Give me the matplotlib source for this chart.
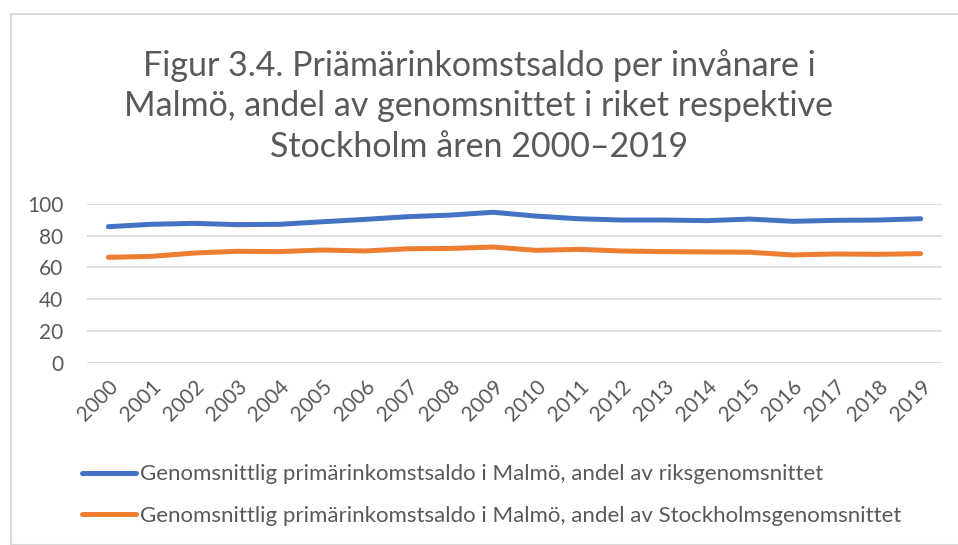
import matplotlib
matplotlib.use("Agg")
import matplotlib.pyplot as plt
from matplotlib.patches import Rectangle

YEARS = [str(y) for y in range(2000, 2020)]
RIKET = [85.7, 87.2, 87.8, 87.0, 87.2, 88.8, 90.3, 92.0, 93.0, 94.8,
         92.4, 90.7, 89.9, 89.9, 89.5, 90.5, 89.1, 89.7, 89.9, 90.7]
STOCKHOLM = [66.4, 67.0, 69.1, 70.2, 70.0, 71.0, 70.4, 71.8, 72.0, 72.9,
             70.8, 71.4, 70.4, 70.0, 69.8, 69.6, 67.9, 68.5, 68.3, 68.7]
LABELS = [
    "Genomsnittlig primärinkomstsaldo i Malmö, andel av riksgenomsnittet",
    "Genomsnittlig primärinkomstsaldo i Malmö, andel av Stockholmsgenomsnittet",
]
TITLE = ("Figur 3.4. Priämärinkomstsaldo per invånare i\n"
         "Malmö, andel av genomsnittet i riket respektive\n"
         "Stockholm åren 2000\u20132019")

TEXT = "#595959"
GRID = "#D9D9D9"
plt.rcParams["font.family"] = ["Lato", "DejaVu Sans"]

W, H = 958, 545
fig = plt.figure(figsize=(W / 100, H / 100), dpi=100)

# chart frame
fig.patches.append(Rectangle((11 / W, 0), 1.0, 1 - 14 / H, transform=fig.transFigure,
                             fill=False, edgecolor=GRID, linewidth=1.5))

ax = fig.add_axes([87 / W, 1 - 362.7 / H, (942 - 87) / W, (362.7 - 204) / H])
x = list(range(len(YEARS)))
l1, = ax.plot(x, RIKET, color="#4472C4", linewidth=3.6, solid_capstyle="round")
l2, = ax.plot(x, STOCKHOLM, color="#ED7D31", linewidth=3.6, solid_capstyle="round")

ax.set_xlim(-0.5, len(YEARS) - 0.5)
ax.set_ylim(0, 100)
ax.set_yticks(range(0, 101, 20))
ax.set_xticks(x)
ax.set_xticklabels(YEARS, rotation=45, ha="right", rotation_mode="anchor")
ax.grid(axis="y", color=GRID, linewidth=1.2)
ax.set_axisbelow(True)
for s in ax.spines.values():
    s.set_visible(False)
ax.tick_params(axis="both", length=0, labelcolor=TEXT, labelsize=15)
ax.tick_params(axis="y", pad=17)
ax.tick_params(axis="x", pad=10)

fig.text(0.5, 1 - 106 / H, TITLE, ha="center", va="center", color=TEXT,
         fontsize=24.5, linespacing=1.32)

leg = fig.legend([l1, l2], LABELS, loc="center left", bbox_to_anchor=(82 / W, 1 - 495 / H),
                 frameon=False, fontsize=16, labelcolor=TEXT, handlelength=2.45,
                 handletextpad=0.15, labelspacing=0.95, borderpad=0, borderaxespad=0)

fig.savefig("out.png", dpi=100)
